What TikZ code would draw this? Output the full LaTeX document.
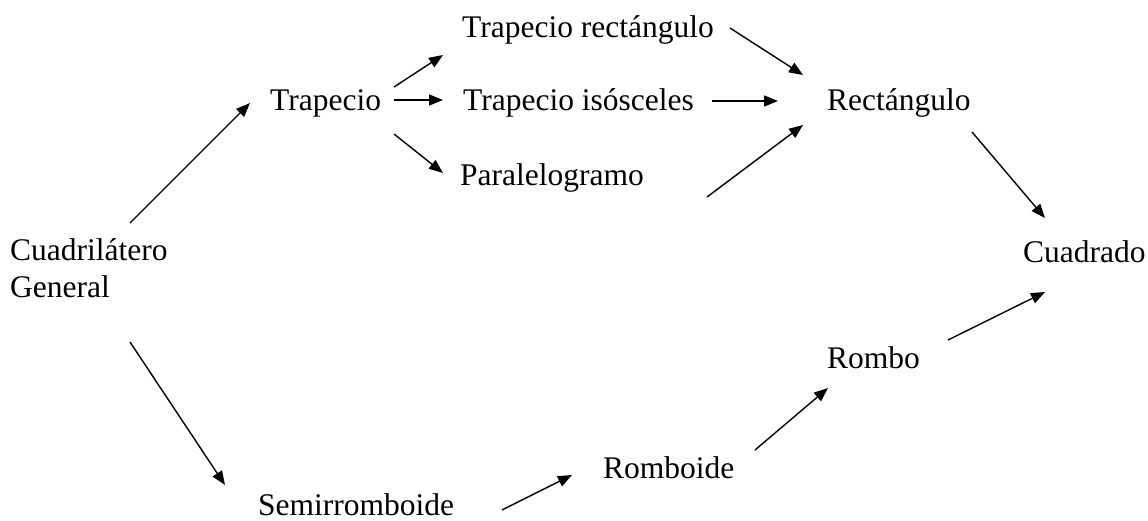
\documentclass[tikz,border=0pt]{standalone}
\usepackage{fontspec}
\setmainfont{Liberation Serif}
\usetikzlibrary{arrows.meta}
\begin{document}
\begin{tikzpicture}[x=1pt,y=-1pt,
  lbl/.style={anchor=base west,inner sep=0pt,font=\fontsize{31.5}{37}\selectfont},
  arr/.style={-{Triangle[length=14pt,width=11pt]},line width=1.4pt}]
\useasboundingbox (0,0) rectangle (1148,520);
\node[lbl,align=left] (cg) at (10,297) {Cuadrilátero\\General};
\node[lbl] (trap) at (270,110) {Trapecio};
\node[lbl] (tr) at (462,37) {Trapecio rectángulo};
\node[lbl] (ti) at (463,110) {Trapecio isósceles};
\node[lbl] (par) at (460,185) {Paralelogramo};
\node[lbl] (rect) at (827,110) {Rectángulo};
\node[lbl] (cuad) at (1023,262) {Cuadrado};
\node[lbl] (rombo) at (827,368) {Rombo};
\node[lbl] (romboide) at (603,478) {Romboide};
\node[lbl] (semi) at (258,515) {Semirromboide};
\draw[arr] ([shift={(120,-74)}]cg.base west) -- ([shift={(-20,-7)}]trap.base west);
\draw[arr] ([shift={(120,45)}]cg.base west) -- ([shift={(-33,-30)}]semi.base west);
\draw[arr] ([shift={(124,-23)}]trap.base west) -- ([shift={(-19,18)}]tr.base west);
\draw[arr] ([shift={(124,-10)}]trap.base west) -- ([shift={(-20,-10)}]ti.base west);
\draw[arr] ([shift={(124,24)}]trap.base west) -- ([shift={(-17,-12)}]par.base west);
\draw[arr] ([shift={(268,-9)}]tr.base west) -- ([shift={(-24,-35)}]rect.base west);
\draw[arr] ([shift={(249,-9)}]ti.base west) -- ([shift={(-49,-9)}]rect.base west);
\draw[arr] ([shift={(247,12)}]par.base west) -- ([shift={(-24,15)}]rect.base west);
\draw[arr] ([shift={(145,22)}]rect.base west) -- ([shift={(22,-44)}]cuad.base west);
\draw[arr] ([shift={(121,-28)}]rombo.base west) -- ([shift={(22,30)}]cuad.base west);
\draw[arr] ([shift={(152,-28)}]romboide.base west) -- ([shift={(1,20)}]rombo.base west);
\draw[arr] ([shift={(244,-5)}]semi.base west) -- ([shift={(-31,-3)}]romboide.base west);
\end{tikzpicture}
\end{document}
